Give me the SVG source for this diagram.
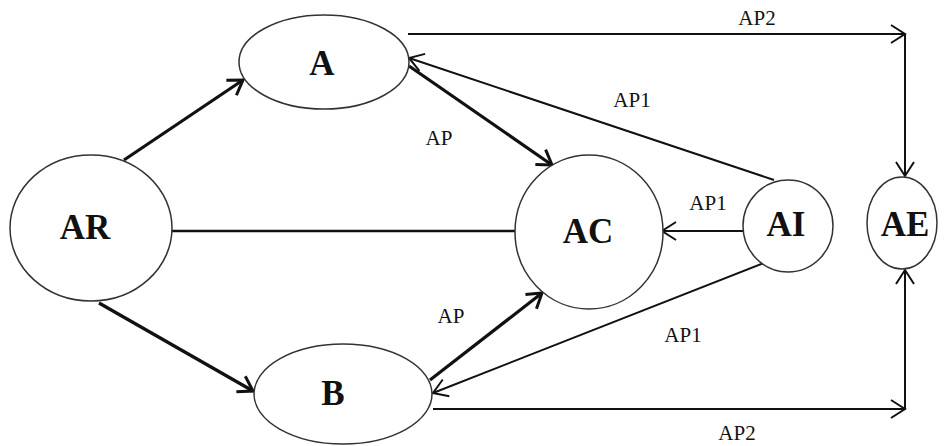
<svg xmlns="http://www.w3.org/2000/svg" width="945" height="446" viewBox="0 0 945 446">
<defs>
<style>
.node{fill:#fff;stroke:#333;stroke-width:1.5}
.nl{font-family:'Liberation Serif','Times New Roman',Times,serif;font-weight:bold;font-size:35px;fill:#111;text-anchor:middle}
.el{font-family:'Liberation Serif','Times New Roman',Times,serif;font-size:21px;fill:#111;text-anchor:middle}
.thick{stroke:#111;stroke-width:3.2;fill:none}
.mid{stroke:#111;stroke-width:2.4;fill:none}
.thin{stroke:#111;stroke-width:2;fill:none}
</style>
<marker id="ahT" markerUnits="userSpaceOnUse" markerWidth="24" markerHeight="24" refX="18" refY="12" orient="auto" viewBox="0 0 24 24">
<path d="M4,3 L18,12 L4,21" fill="none" stroke="#111" stroke-width="3"/>
</marker>
<marker id="ah" markerUnits="userSpaceOnUse" markerWidth="24" markerHeight="24" refX="18" refY="12" orient="auto" viewBox="0 0 24 24">
<path d="M4,3 L18,12 L4,21" fill="none" stroke="#111" stroke-width="2"/>
</marker>
</defs>
<rect width="945" height="446" fill="#fff"/>
<g id="connectors">
<line class="thick" x1="124" y1="160" x2="243" y2="80" marker-end="url(#ahT)"/>
<line class="thick" x1="99" y1="303" x2="253" y2="391" marker-end="url(#ahT)"/>
<line class="thick" x1="409" y1="66" x2="552" y2="165" marker-end="url(#ahT)"/>
<line class="thick" x1="430" y1="380" x2="542" y2="293" marker-end="url(#ahT)"/>
<line class="mid" x1="172" y1="231" x2="515" y2="231"/>
<line class="thin" x1="774" y1="180" x2="409" y2="58" marker-end="url(#ah)"/>
<line class="thin" x1="743" y1="231" x2="662" y2="231" marker-end="url(#ah)"/>
<line class="thin" x1="764" y1="263" x2="433" y2="393" marker-end="url(#ah)"/>
<line class="thin" x1="408" y1="34" x2="905" y2="34" marker-end="url(#ah)"/>
<line class="thin" x1="905" y1="34" x2="905" y2="176" marker-end="url(#ah)"/>
<line class="thin" x1="433" y1="409" x2="905" y2="409" marker-end="url(#ah)"/>
<line class="thin" x1="905" y1="409" x2="905" y2="270" marker-end="url(#ah)"/>
<text class="el" x="757" y="25">AP2</text>
<text class="el" x="632" y="107">AP1</text>
<text class="el" x="439" y="145">AP</text>
<text class="el" x="708" y="210">AP1</text>
<text class="el" x="451" y="323">AP</text>
<text class="el" x="683" y="342">AP1</text>
<text class="el" x="737" y="440">AP2</text>
</g>
<g id="A"><ellipse class="node" cx="324" cy="62" rx="85" ry="47"/><text class="nl" x="322" y="75">A</text></g>
<g id="AR"><ellipse class="node" cx="91" cy="228" rx="81" ry="73"/><text class="nl" x="85" y="239">AR</text></g>
<g id="B"><ellipse class="node" cx="343" cy="394" rx="89" ry="50"/><text class="nl" x="333" y="405">B</text></g>
<g id="AC"><ellipse class="node" cx="589" cy="232" rx="74" ry="77"/><text class="nl" x="588" y="243">AC</text></g>
<g id="AI"><ellipse class="node" cx="788" cy="226" rx="45" ry="46"/><text class="nl" x="786" y="236">AI</text></g>
<g id="AE"><ellipse class="node" cx="902" cy="223" rx="35" ry="46"/><text class="nl" x="905" y="236">AE</text></g>
</svg>
